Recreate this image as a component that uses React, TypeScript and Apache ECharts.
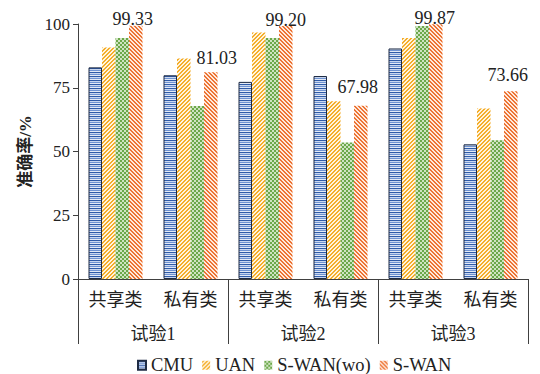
import React, { useEffect, useRef } from 'react';
import * as echarts from 'echarts';

const subCategories = ['共享类', '私有类', '共享类', '私有类', '共享类', '私有类'];
const groups = ['试验1', '试验2', '试验3'];
const seriesNames = ['CMU', 'UAN', 'S-WAN(wo)', 'S-WAN'];
const cmu = [83.0, 79.9, 77.3, 79.6, 90.4, 52.8];
const uan = [90.8, 86.5, 96.7, 69.7, 94.5, 66.9];
const swanWo = [94.5, 67.8, 94.5, 53.5, 99.2, 54.4];
const swan = [99.33, 81.03, 99.2, 67.98, 99.87, 73.66];
const swanLabelOffsets = [[-3, 2], [6, -5], [0, 3], [-3, -10], [-1, 3], [-3, -7]];

function makePattern(w: number, h: number, fn: (x: number, y: number) => string | null) {
  const c = document.createElement('canvas');
  c.width = w;
  c.height = h;
  const ctx = c.getContext('2d')!;
  for (let y = 0; y < h; y++) {
    for (let x = 0; x < w; x++) {
      const col = fn(x, y);
      if (col) {
        ctx.fillStyle = col;
        ctx.fillRect(x, y, 1, 1);
      }
    }
  }
  return c;
}

const SERIF = '"Liberation Serif", "Noto Sans CJK SC", serif';

export default function App() {
  const ref = useRef<HTMLDivElement>(null);
  useEffect(() => {
    if (!ref.current) return;
    const chart = echarts.init(ref.current, null, { renderer: 'svg' });

    const cmuRows = ['#2F5BA8', '#C9D7EF', '#6F93D2', '#E3EAF6'];
    const cmuPat = makePattern(4, 4, (_x, y) => cmuRows[y]);
    const uanPat = makePattern(4, 4, (x, y) => ((x + y) % 4 < 2 ? '#F4AE2C' : '#FFF4DE'));
    const woPat = makePattern(4, 4, (x, y) =>
      ((Math.floor(x / 2) + Math.floor(y / 2)) % 2 === 0 ? '#6BA84A' : '#CFE3C1'));
    const swanPat = makePattern(4, 4, (x, y) => (((x - y) % 4 + 4) % 4 < 2 ? '#EC7434' : '#FFE9DC'));

    const pats = [cmuPat, uanPat, woPat, swanPat];
    const datas = [cmu, uan, swanWo, swan];

    const series = seriesNames.map((name, i) => ({
      name,
      type: 'bar',
      xAxisIndex: 0,
      barWidth: 13.5,
      barGap: '0%',
      itemStyle: {
        color: { image: pats[i], repeat: 'repeat' },
        borderColor: i === 0 ? '#1E2B44' : undefined,
        borderWidth: i === 0 ? 1 : 0,
      },
      data: datas[i].map((v, j) =>
        i === 3
          ? {
              value: v,
              label: {
                show: true,
                position: 'top',
                distance: 0,
                offset: swanLabelOffsets[j],
                formatter: (p: any) => Number(p.value).toFixed(2),
                fontFamily: SERIF,
                fontSize: 18,
                color: '#222',
              },
            }
          : v
      ),
    }));

    chart.setOption({
      animation: false,
      backgroundColor: '#fff',
      grid: { left: 78, right: 12, top: 24, bottom: 95, containLabel: false },
      legend: {
        data: seriesNames,
        top: 356,
        left: 137,
        padding: 0,
        itemWidth: 8,
        itemHeight: 9,
        itemGap: 9,
        icon: 'rect',
        textStyle: { fontFamily: SERIF, fontSize: 18.5, color: '#222' },
      },
      xAxis: [
        {
          type: 'category',
          data: subCategories,
          position: 'bottom',
          axisLine: { show: true, lineStyle: { color: '#404040', width: 1 } },
          axisTick: { show: false },
          axisLabel: { margin: 12, fontFamily: SERIF, fontSize: 18, color: '#222', interval: 0 },
        },
        {
          type: 'category',
          data: groups,
          position: 'bottom',
          offset: 0,
          axisLine: { show: false },
          axisTick: { show: true, length: 65, interval: 0, lineStyle: { color: '#404040', width: 1 } },
          axisLabel: { margin: 46, fontFamily: SERIF, fontSize: 18, color: '#222', interval: 0 },
        },
      ],
      yAxis: {
        type: 'value',
        min: 0,
        max: 100,
        interval: 25,
        name: '准确率/%',
        nameLocation: 'middle',
        nameGap: 37,
        nameTextStyle: { fontFamily: SERIF, fontSize: 17, color: '#222', fontWeight: 'bold' },
        axisLine: { show: true, lineStyle: { color: '#404040', width: 1 } },
        axisTick: { show: true, length: 5, lineStyle: { color: '#404040' } },
        axisLabel: { margin: 8, fontFamily: SERIF, fontSize: 17, color: '#222' },
        splitLine: { show: false },
      },
      series,
    });
    return () => chart.dispose();
  }, []);
  return <div ref={ref} style={{ position: 'absolute', left: 0, top: 0, width: 540, height: 374 }} />;
}
